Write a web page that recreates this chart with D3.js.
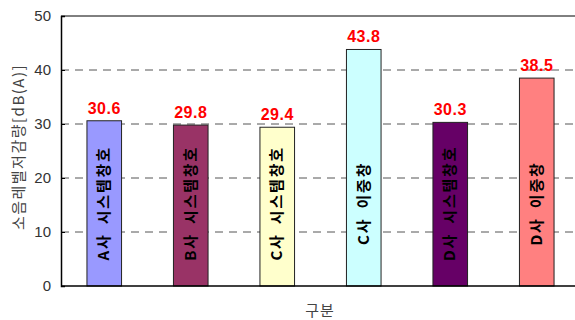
<!DOCTYPE html>
<html>
<head>
<meta charset="utf-8">
<script src="https://cdn.jsdelivr.net/npm/d3@7/dist/d3.min.js"></script>
<style>
  html, body { margin: 0; padding: 0; background: #fff; }
  svg { display: block; }
</style>
</head>
<body>
<svg id="chart" width="575" height="320"></svg>
<script>
// Noise reduction by window type
const categories = ["A사 시스템창호", "B사 시스템창호", "C사 시스템창호", "C사 이중창", "D사 시스템창호", "D사 이중창"];
const reduction = [30.6, 29.8, 29.4, 43.8, 30.3, 38.5];
const barColors = ["#9999FF", "#993366", "#FFFFCC", "#CCFFFF", "#660066", "#FF8080"];
const yTicks = [0, 10, 20, 30, 40, 50];
const yTitle = "소음레벨저감량[dB(A)]";
const xTitle = "구분";

const svg = d3.select("#chart");
const margin = { left: 61, top: 16, right: -5, bottom: 34 };
const W = 575, H = 320;
const x0 = margin.left, x1 = W - margin.right;
const y0 = H - margin.bottom, y1 = margin.top;

const x = d3.scaleBand().domain(categories).range([x0, x1]).paddingInner(0.6).paddingOuter(0.3);
const y = d3.scaleLinear().domain([0, 50]).range([y0, y1]);

const kfont = "'Noto Sans CJK KR', 'Noto Sans', sans-serif";
const lfont = "'Liberation Sans', Arial, sans-serif";

// dashed gridlines
svg.append("g").selectAll("line")
  .data(yTicks.filter(t => t > 0 && t < 50))
  .join("line")
  .attr("x1", x0).attr("x2", x1)
  .attr("y1", d => y(d)).attr("y2", d => y(d))
  .attr("stroke", "#555").attr("stroke-width", 1)
  .attr("stroke-dasharray", "8,6");

// top border
svg.append("line")
  .attr("x1", x0).attr("x2", x1).attr("y1", y(50)).attr("y2", y(50))
  .attr("stroke", "#000").attr("stroke-width", 1);

// bars
svg.append("g").selectAll("rect")
  .data(reduction)
  .join("rect")
  .attr("x", (d, i) => x(categories[i]))
  .attr("width", x.bandwidth())
  .attr("y", d => y(d))
  .attr("height", d => y(0) - y(d))
  .attr("fill", (d, i) => barColors[i])
  .attr("stroke", "#222").attr("stroke-width", 1);

// value labels
svg.append("g").selectAll("text")
  .data(reduction)
  .join("text")
  .attr("x", (d, i) => x(categories[i]) + x.bandwidth() / 2)
  .attr("y", d => y(d) - 7)
  .attr("text-anchor", "middle")
  .attr("font-family", lfont).attr("font-weight", "bold")
  .attr("font-size", 16).attr("letter-spacing", 0.5).attr("fill", "#FF0000")
  .text(d => d.toFixed(1));

// category names written vertically inside each bar
const midY = y(15.3);
svg.append("g").selectAll("text")
  .data(categories)
  .join("text")
  .attr("transform", d => `translate(${x(d) + x.bandwidth() / 2 + 5},${midY}) rotate(-90)`)
  .attr("text-anchor", "middle")
  .attr("font-family", kfont).attr("font-weight", "bold")
  .attr("font-size", 15).attr("letter-spacing", 1.8).attr("word-spacing", 4).attr("fill", "#000")
  .text(d => d);

// y axis
const yAxis = d3.axisLeft(y).tickValues(yTicks).tickSize(-4).tickPadding(10).tickFormat(d3.format("d"));
const ya = svg.append("g").attr("transform", `translate(${x0},0)`).call(yAxis);
ya.select(".domain").attr("stroke", "#000").attr("stroke-width", 1.5);
ya.selectAll(".tick line").attr("stroke", "#000");
ya.selectAll(".tick text").attr("font-family", lfont).attr("font-size", 15).attr("fill", "#333");

// baseline
svg.append("line")
  .attr("x1", x0).attr("x2", x1).attr("y1", y(0)).attr("y2", y(0))
  .attr("stroke", "#000").attr("stroke-width", 1.5);

// axis titles
svg.append("text")
  .attr("transform", `translate(24,${(y0 + y1) / 2 - 4}) rotate(-90)`)
  .attr("text-anchor", "middle")
  .attr("font-family", kfont).attr("font-size", 15).attr("letter-spacing", 1.5).attr("fill", "#444")
  .text(yTitle);

svg.append("text")
  .attr("x", 320).attr("y", 316)
  .attr("text-anchor", "middle")
  .attr("font-family", kfont).attr("font-size", 15).attr("letter-spacing", 1).attr("fill", "#444")
  .text(xTitle);
</script>
</body>
</html>
